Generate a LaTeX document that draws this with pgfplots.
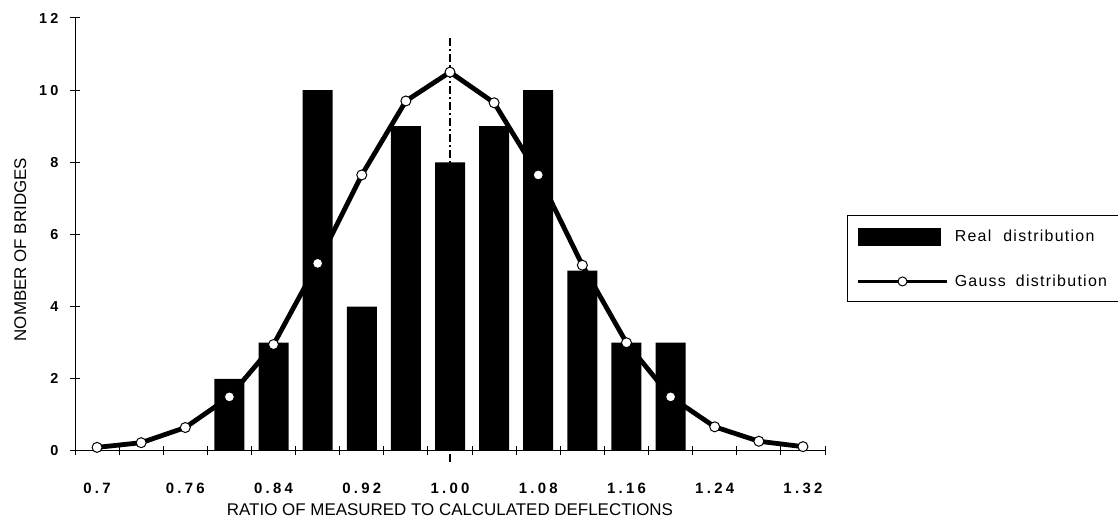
\documentclass[border=0pt]{standalone}
\usepackage{fontspec}
\setmainfont{Liberation Sans}
\newfontfamily\tickfont[LetterSpace=22]{Liberation Sans}
\newfontfamily\legfont[LetterSpace=8]{Liberation Sans}
\usepackage{pgfplots}
\pgfplotsset{compat=1.18}
\pgfplotstableread{
i v
0 0.10
1 0.23
2 0.65
3 1.50
4 2.95
5 5.20
6 7.65
7 9.70
8 10.50
9 9.65
10 7.65
11 5.15
12 3.00
13 1.50
14 0.67
15 0.27
16 0.12
}\gausstab
\pgfplotstableread{
i v
3 2
4 3
5 10
6 4
7 9
8 8
9 9
10 10
11 5
12 3
13 3
}\bartab
\begin{document}
\begin{tikzpicture}[x=1bp,y=1bp]
\path[use as bounding box] (0,0) rectangle (1118,526);
\begin{axis}[
  at={(75bp,75bp)}, anchor=south west,
  scale only axis, width=750bp, height=433bp,
  xmin=-0.5, xmax=16.5, ymin=0, ymax=12,
  axis lines*=left,
  axis line style={line width=1bp},
  tick align=center,
  major tick length=10bp,
  minor tick length=9bp,
  tick style={line width=1bp, black},
  xtick={0,2,4,6,8,10,12,14,16},
  xticklabels={0.7,0.76,0.84,0.92,1.00,1.08,1.16,1.24,1.32},
  major x tick style={draw=none},
  minor xtick={-0.5,0.5,1.5,2.5,3.5,4.5,5.5,6.5,7.5,8.5,9.5,10.5,11.5,12.5,13.5,14.5,15.5,16.5},
  xticklabel style={font=\tickfont\bfseries\fontsize{15}{15}\selectfont, yshift=-24bp},
  ytick={0,2,4,6,8,10,12},
  yticklabels={0,2,4,6,8,10,12},
  yticklabel style={font=\tickfont\bfseries\fontsize{14.5}{14.5}\selectfont, xshift=-8bp},
  xlabel={RATIO OF MEASURED TO CALCULATED DEFLECTIONS},
  ylabel={NOMBER OF BRIDGES},
  xlabel style={font=\fontsize{17}{17}\selectfont, at={(axis description cs:0.5,-0.136)}, anchor=center},
  ylabel style={font=\fontsize{17}{17}\selectfont, at={(axis description cs:-0.073,0.465)}, anchor=center},
  legend style={at={(axis description cs:1.029,0.343)}, anchor=south west,
     draw=black, line width=1bp, font=\legfont\fontsize{16}{16}\selectfont,
     row sep=27bp, inner xsep=9bp, inner ysep=12bp,
     nodes={inner xsep=6bp}},
  legend cell align=left,
  clip=false,
]
\addlegendimage{legend image code/.code={\fill[black] (0bp,-8.5bp) rectangle (82bp,8.5bp);}}
\addlegendentry{Real\hspace{12bp}distribution}
\addlegendimage{legend image code/.code={\draw[line width=3.5bp] (0bp,0bp) -- (89bp,0bp); \draw[fill=white, line width=1bp] (44.5bp,0bp) circle (4.5bp);}}
\addlegendentry{Gauss\hspace{10bp}distribution\hspace{10bp}}

\addplot[forget plot, line width=1.2bp, dash pattern=on 8bp off 3bp on 2bp off 3bp] coordinates {(8,-0.3) (8,11.45)};
\addplot[forget plot, line width=4.8bp, line join=round, mark=none] table[x=i, y=v] {\gausstab};
\addplot[forget plot, ybar, bar width=0.68, bar shift=0pt, fill=black, draw=none] table[x=i, y=v] {\bartab};
\addplot[forget plot, only marks, mark=*, mark size=5bp, mark options={fill=white, draw=black, line width=1bp}] table[x=i, y=v] {\gausstab};
\end{axis}
\end{tikzpicture}
\end{document}
